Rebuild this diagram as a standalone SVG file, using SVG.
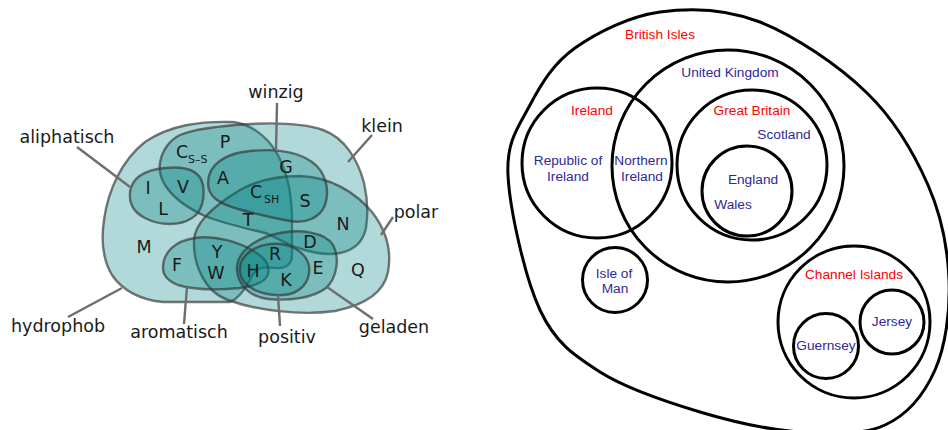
<svg xmlns="http://www.w3.org/2000/svg" width="948" height="430" viewBox="0 0 948 430">
<style>
.set{fill:#008080;fill-opacity:0.3;stroke:#333;stroke-opacity:0.65;stroke-width:2.4}
.con{stroke:#6e6e6e;stroke-width:2.4;fill:none}
.aa{font-family:"DejaVu Sans",sans-serif;font-size:17.5px;fill:#1a1a1a;text-anchor:middle}
.sub{font-family:"DejaVu Sans",sans-serif;font-size:11px;fill:#1a1a1a}
.lab{font-family:"DejaVu Sans",sans-serif;font-size:17.5px;fill:#1a1a1a;text-anchor:middle}
.c{fill:none;stroke:#000;stroke-width:3}
.r{font-family:"Liberation Sans",Arial,sans-serif;font-size:13.7px;fill:#ff0000;text-anchor:middle}
.b{font-family:"Liberation Sans",Arial,sans-serif;font-size:13.7px;fill:#2e2a93;text-anchor:middle}
</style>
<rect width="948" height="430" fill="#fff"/>
<!-- Left: amino acid Venn diagram -->
<g id="amino">
<g id="hydrophob"><path class="set" d="M230,302 L163,302 C140,300 122,290 112,275 C103,260 101,240 104,220 C108,190 122,160 145,142 C170,125 200,121 233,122 C250,124 265,135 275,150 C287,170 291,190 292,215 L292,255 C292,265 285,269 275,268 C265,267 258,266 252,276 C247,286 240,298 230,302 Z"/></g>
<g id="klein"><path class="set" d="M160,163 C162,150 170,140 180,135 C195,129 215,127 235,125 C260,123 300,122 323,130 C345,138 358,160 364,183 C368,200 368,215 366,228 C363,242 355,250 340,253 C325,256 310,252 298,248 C285,244 275,236 265,233 C245,228 225,224 205,216 C185,207 172,196 165,185 C160,177 159,170 160,163 Z"/></g>
<g id="polar"><path class="set" d="M194,240 C195,222 215,205 240,190 C258,180 280,176 300,176 C330,177 355,192 372,212 C386,230 392,250 388,272 C384,292 365,305 335,311 C300,316 255,310 228,300 C205,292 193,265 194,240 Z"/></g>
<g id="winzig"><path class="set" d="M208,183 C208,165 225,153 250,151 C270,149 295,150 312,162 C326,172 330,190 325,205 C320,218 305,224 290,221 C275,218 250,213 235,208 C218,203 208,196 208,183 Z"/></g>
<g id="aliphatisch"><path class="set" d="M130,192 C132,178 145,170 165,168 C185,166 200,170 203,185 C205,198 202,212 192,218 C180,226 160,226 145,218 C133,212 129,202 130,192 Z"/></g>
<g id="aromatisch"><path class="set" d="M163,268 C163,252 175,241 195,238 C215,235 240,242 255,252 C265,258 270,266 268,274 C266,282 255,286 240,288 C220,290 195,290 178,285 C168,281 163,276 163,268 Z"/></g>
<g id="geladen"><path class="set" d="M237,270 C236,252 255,238 280,233 C300,229 325,232 333,245 C340,258 337,278 326,288 C313,298 290,301 268,299 C250,297 238,285 237,270 Z"/></g>
<g id="positiv"><path class="set" d="M240,272 C238,258 252,246 270,244 C290,242 306,252 309,266 C311,282 300,294 283,295 C262,296 242,288 240,272 Z"/></g>
</g>
<g id="connectors">
<line class="con" x1="77" y1="147" x2="130" y2="187"/>
<line class="con" x1="277" y1="103" x2="276" y2="151"/>
<line class="con" x1="372" y1="135" x2="348" y2="162"/>
<line class="con" x1="393" y1="217" x2="381" y2="235"/>
<line class="con" x1="68" y1="317" x2="122" y2="288"/>
<line class="con" x1="184" y1="324" x2="187" y2="287"/>
<line class="con" x1="280" y1="326" x2="278" y2="295"/>
<line class="con" x1="373" y1="319" x2="327" y2="287"/>
</g>
<g id="letters">
<text class="aa" x="182" y="158">C</text><text class="sub" x="188" y="163">S–S</text>
<text class="aa" x="225" y="148">P</text>
<text class="aa" x="148" y="194">I</text>
<text class="aa" x="183" y="193">V</text>
<text class="aa" x="163" y="215">L</text>
<text class="aa" x="223" y="184">A</text>
<text class="aa" x="286" y="173">G</text>
<text class="aa" x="256" y="198">C</text><text class="sub" x="264" y="203">SH</text>
<text class="aa" x="305" y="207">S</text>
<text class="aa" x="248" y="226">T</text>
<text class="aa" x="343" y="230">N</text>
<text class="aa" x="144" y="253">M</text>
<text class="aa" x="310" y="248">D</text>
<text class="aa" x="217" y="258">Y</text>
<text class="aa" x="177" y="271">F</text>
<text class="aa" x="275" y="260">R</text>
<text class="aa" x="216" y="279">W</text>
<text class="aa" x="253" y="277">H</text>
<text class="aa" x="318" y="274">E</text>
<text class="aa" x="358" y="276">Q</text>
<text class="aa" x="286" y="286">K</text>
</g>
<g id="labels">
<text class="lab" x="67" y="143">aliphatisch</text>
<text class="lab" x="276" y="98">winzig</text>
<text class="lab" x="382" y="132">klein</text>
<text class="lab" x="416" y="218">polar</text>
<text class="lab" x="58" y="332">hydrophob</text>
<text class="lab" x="179" y="338">aromatisch</text>
<text class="lab" x="287" y="343">positiv</text>
<text class="lab" x="394" y="333">geladen</text>
</g>
<!-- Right: British Isles Euler diagram -->
<g id="british-isles">
<path class="c" d="M508,175 C506.3,140.8 518.8,126.2 530,105 C541.2,83.8 553.3,63.5 575,48 C596.7,32.5 629.2,16.3 660,12 C690.8,7.7 725.5,8.5 760,22 C794.5,35.5 839,65.8 867,93 C895,120.2 914.3,153.8 928,185 C941.7,216.2 947.8,249.2 949,280 C950.2,310.8 945.7,345.8 935,370 C924.3,394.2 907.5,414.7 885,425 C862.5,435.3 830.8,434.2 800,432 C769.2,429.8 733.3,422 700,412 C666.7,402 626.7,389 600,372 C573.3,355 555.3,342.8 540,310 C524.7,277.2 509.7,209.2 508,175 Z"/>
<text class="r" x="660" y="39">British Isles</text>
</g>
<g id="ireland">
<circle class="c" cx="597" cy="163" r="75"/>
<text class="r" x="592" y="115">Ireland</text>
<text class="b" x="568" y="165">Republic of</text>
<text class="b" x="568" y="181">Ireland</text>
</g>
<g id="united-kingdom">
<circle class="c" cx="728" cy="166" r="116"/>
<text class="b" x="730" y="77">United Kingdom</text>
<text class="b" x="641" y="165">Northern</text>
<text class="b" x="642" y="181">Ireland</text>
</g>
<g id="great-britain">
<circle class="c" cx="752" cy="165" r="75"/>
<text class="r" x="752" y="115">Great Britain</text>
<text class="b" x="784" y="139">Scotland</text>
</g>
<g id="england">
<circle class="c" cx="747" cy="191" r="45"/>
<text class="b" x="753" y="184">England</text>
<text class="b" x="733" y="209">Wales</text>
</g>
<g id="isle-of-man">
<circle class="c" cx="615" cy="280" r="32.5"/>
<text class="b" x="614" y="278">Isle of</text>
<text class="b" x="615" y="293">Man</text>
</g>
<g id="channel-islands">
<circle class="c" cx="854" cy="322" r="76"/>
<text class="r" x="854" y="279">Channel Islands</text>
</g>
<g id="jersey">
<circle class="c" cx="892" cy="322" r="32"/>
<text class="b" x="892" y="326">Jersey</text>
</g>
<g id="guernsey">
<circle class="c" cx="826" cy="346" r="32.5"/>
<text class="b" x="826" y="350">Guernsey</text>
</g>
</svg>
